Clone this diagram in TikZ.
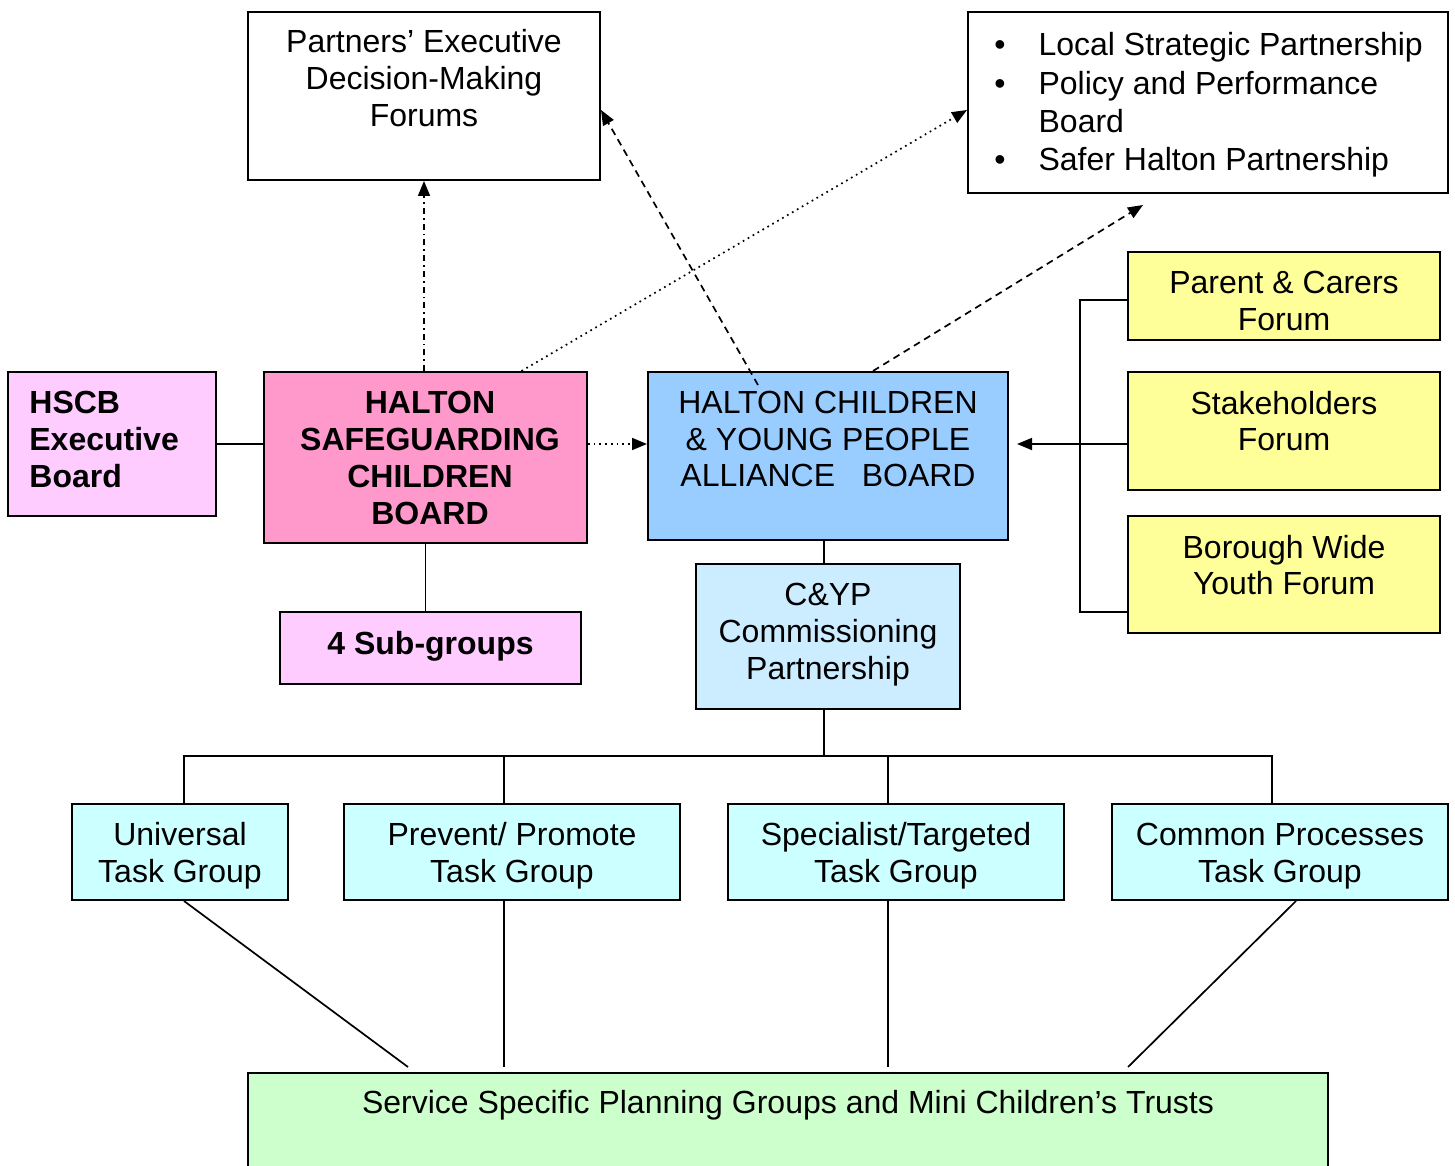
\documentclass[tikz,border=0pt]{standalone}
\usepackage{fontspec}
\setmainfont{Liberation Sans}
\usetikzlibrary{arrows.meta}

\definecolor{hpink}{HTML}{FF99CC}
\definecolor{lpink}{HTML}{FFCCFF}
\definecolor{hblue}{HTML}{99CCFF}
\definecolor{lblue}{HTML}{CCECFF}
\definecolor{hyell}{HTML}{FFFF99}
\definecolor{hcyan}{HTML}{CCFFFF}
\definecolor{hgreen}{HTML}{CCFFCC}

\begin{document}
\begin{tikzpicture}[x=0.5pt, y=-0.5pt,
    box/.style={draw, line width=1pt, inner sep=0pt},
    txt/.style={align=center, inner sep=0pt, font=\fontsize{16}{18.4}\selectfont},
    arr/.style={line width=0.85pt, -{Triangle[length=7.5pt,width=6pt]}},
    con/.style={line width=0.85pt}]
    \useasboundingbox (0,0) rectangle (1455,1166);
    \clip (0,0) rectangle (1455,1166);

    % boxes
    \node[box, minimum width=176pt, minimum height=84pt] (part) at (424,96) {};
    \node[box, minimum width=240pt, minimum height=90.5pt] (lsp) at (1208,102.5) {};
    \node[box, fill=lpink, minimum width=104pt, minimum height=72pt] (hexec) at (112,444) {};
    \node[box, fill=hpink, minimum width=161.5pt, minimum height=85.5pt] (hscb) at (425.5,457.5) {};
    \node[box, fill=hblue, minimum width=180pt, minimum height=84pt] (hcyp) at (828,456) {};
    \node[box, fill=hyell, minimum width=156pt, minimum height=44pt] (parent) at (1284,296) {};
    \node[box, fill=hyell, minimum width=156pt, minimum height=59pt] (stake) at (1284,431) {};
    \node[box, fill=hyell, minimum width=156pt, minimum height=58.5pt] (youth) at (1284,574.5) {};
    \node[box, fill=lpink, minimum width=150.5pt, minimum height=36pt] (subg) at (430.5,648) {};
    \node[box, fill=lblue, minimum width=132pt, minimum height=72.5pt] (cyp) at (828,636.5) {};
    \node[box, fill=hcyan, minimum width=108pt, minimum height=48pt] (univ) at (180,852) {};
    \node[box, fill=hcyan, minimum width=168pt, minimum height=48pt] (prev) at (512,852) {};
    \node[box, fill=hcyan, minimum width=168pt, minimum height=48pt] (spec) at (896,852) {};
    \node[box, fill=hcyan, minimum width=168pt, minimum height=48pt] (comm) at (1280,852) {};
    \node[box, fill=hgreen, minimum width=540pt, minimum height=53.5pt] (ssp) at (788,1126.5) {};

    % texts
    \node[txt] (partt) at (424,78) {Partners’ Executive\\Decision-Making\\Forums};
    \node[txt, anchor=base west] (lspt) at (994,56) {%
      \renewcommand{\arraystretch}{1.04}%
      \begin{tabular}[t]{@{}l@{\hspace{16.5pt}}l@{}}
        \textbullet & Local Strategic Partnership\\
        \textbullet & Policy and Performance\\
                    & Board\\
        \textbullet & Safer Halton Partnership
      \end{tabular}};
    \node[txt, align=left, anchor=west, font=\fontsize{16}{18.4}\selectfont\bfseries] (hexect) at (29,439.5) {HSCB\\Executive\\Board};
    \node[txt, font=\fontsize{16}{18.4}\selectfont\bfseries] (hscbt) at (430,458) {HALTON\\SAFEGUARDING\\CHILDREN\\BOARD};
    \node[txt] (hcypt) at (828,439) {HALTON CHILDREN\\\& YOUNG PEOPLE\\ALLIANCE\ \ \ BOARD};
    \node[txt] (parentt) at (1284,301) {Parent \& Carers\\Forum};
    \node[txt] (staket) at (1284,421) {Stakeholders\\Forum};
    \node[txt] (youtht) at (1284,565) {Borough Wide\\Youth Forum};
    \node[txt, font=\fontsize{16}{18.4}\selectfont\bfseries] (subgt) at (430.5,646) {4 Sub-groups};
    \node[txt] (cypt) at (828,634.5) {C\&YP\\Commissioning\\Partnership};
    \node[txt] (univt) at (180,856) {Universal\\Task Group};
    \node[txt] (prevt) at (512,856) {Prevent/ Promote\\Task Group};
    \node[txt] (spect) at (896,856) {Specialist/Targeted\\Task Group};
    \node[txt] (commt) at (1280,856) {Common Processes\\Task Group};
    \node[txt] (sspt) at (788,1105) {Service Specific Planning Groups and Mini Children’s Trusts};

    % links between the boards
    \draw[con] (hexec.east) -- (hexec.east -| hscb.west);
    \draw[arr, dash dot] (part.south |- hscb.north) -- (part.south);
    \draw[arr, dotted] ([xshift=48pt]hscb.north) -- ([yshift=-3.75pt]lsp.west);
    \draw[arr, dotted] ([yshift=6.75pt]hscb.east) -- ([yshift=6.75pt]hscb.east -| hcyp.west);
    \draw[arr, dash pattern=on 3.5pt off 2.5pt] ([xshift=-35pt, yshift=-7pt]hcyp.north) -- ([yshift=-7pt]part.east);
    \coordinate (lspnear) at (1143,205);
    \draw[arr, dash pattern=on 3.5pt off 2.5pt] ([xshift=22.5pt]hcyp.north) -- (lspnear);
    \draw[con] (hscb.south) -- (hscb.south |- subg.north);

    % forums
    \coordinate (bus) at (1080,444);
    \draw[con] ([yshift=-2pt]parent.west) -| (bus) |- ([yshift=-18.75pt]youth.west);
    \draw[con] (stake.west |- bus) -- (bus);
    \draw[arr] (bus) -- ([xshift=4pt]hcyp.east |- bus);

    % task groups
    \coordinate (tree) at (824,756);
    \draw[con] ([xshift=-2pt]hcyp.south) -- ([xshift=-2pt]cyp.north);
    \draw[con] ([xshift=-2pt]cyp.south) -- (tree);
    \draw[con] ([xshift=2pt]univ.north) |- (tree) -| ([xshift=-4pt]comm.north);
    \draw[con] ([xshift=-4pt]prev.north) -- ([xshift=-4pt]prev.north |- tree);
    \draw[con] ([xshift=-4pt]spec.north) -- ([xshift=-4pt]spec.north |- tree);

    \draw[con] ([xshift=2pt]univ.south) -- ([xshift=-190pt, yshift=2.5pt]ssp.north);
    \draw[con] ([xshift=-4pt]prev.south) -- ([xshift=-4pt, yshift=2.5pt]prev.south |- ssp.north);
    \draw[con] ([xshift=-4pt]spec.south) -- ([xshift=-4pt, yshift=2.5pt]spec.south |- ssp.north);
    \draw[con] ([xshift=8pt]comm.south) -- ([xshift=170pt, yshift=2.5pt]ssp.north);
\end{tikzpicture}
\end{document}
